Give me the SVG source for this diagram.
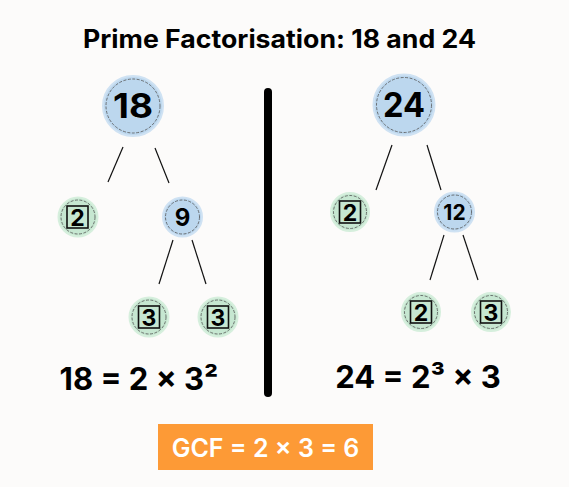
<svg xmlns="http://www.w3.org/2000/svg" width="569" height="487" viewBox="0 0 569 487">
<style>
.bg{fill:#fcfbfa}
.blue{fill:#bcd7ee;stroke:#cfe2f3;stroke-width:2}
.green{fill:#c6e7d1;stroke:#d6efdd;stroke-width:2}
.ring{fill:none;stroke:#555;stroke-width:0.8;stroke-dasharray:3 1.5}
.box{fill:none;stroke:#111;stroke-width:1.6}
.t{font-family:Inter,"Liberation Sans",sans-serif;font-weight:700;fill:#000;text-anchor:middle}
.d{font-size:23px}
.conn line{stroke:#111;stroke-width:1.2}
</style>
<rect class="bg" width="569" height="487"/>
<text class="t" x="279.5" y="48" font-size="25" textLength="393" lengthAdjust="spacingAndGlyphs">Prime Factorisation: 18 and 24</text>
<g class="conn">
<line x1="123" y1="147" x2="108" y2="182"/>
<line x1="155" y1="148" x2="169" y2="183"/>
<line x1="173" y1="240" x2="159" y2="284"/>
<line x1="192" y1="240" x2="206" y2="284"/>
<line x1="392" y1="145" x2="376" y2="190"/>
<line x1="427" y1="145" x2="441" y2="190"/>
<line x1="444" y1="235" x2="430" y2="280"/>
<line x1="463" y1="235" x2="478" y2="280"/>
</g>
<line x1="268" y1="92" x2="268" y2="393" stroke="#000" stroke-width="8" stroke-linecap="round"/>
<g id="n18">
<circle class="blue" cx="133" cy="106" r="30"/>
<circle class="ring" cx="133" cy="106" r="27"/>
<text class="t" x="133" y="118" font-size="34" textLength="40" lengthAdjust="spacingAndGlyphs">18</text>
</g>
<g id="n2a">
<circle class="green" cx="78" cy="217" r="19.5"/>
<circle class="ring" cx="78" cy="217" r="17"/>
<rect class="box" x="67" y="206" width="21" height="22"/>
<text class="t d" x="77.5" y="225.5">2</text>
</g>
<g id="n9">
<circle class="blue" cx="182.5" cy="217" r="19.5"/>
<circle class="ring" cx="182.5" cy="217" r="17"/>
<text class="t" x="182.5" y="226" font-size="24">9</text>
</g>
<g id="n3a">
<circle class="green" cx="149" cy="317" r="19.5"/>
<circle class="ring" cx="149" cy="317" r="17"/>
<rect class="box" x="138.5" y="306" width="21" height="22"/>
<text class="t d" x="149" y="325.5">3</text>
</g>
<g id="n3b">
<circle class="green" cx="218" cy="317" r="19.5"/>
<circle class="ring" cx="218" cy="317" r="17"/>
<rect class="box" x="207.5" y="306" width="21" height="22"/>
<text class="t d" x="218" y="325.5">3</text>
</g>
<g id="n24">
<circle class="blue" cx="404" cy="105" r="30.5"/>
<circle class="ring" cx="404" cy="105" r="27.5"/>
<text class="t" x="404" y="117" font-size="34" textLength="42" lengthAdjust="spacingAndGlyphs">24</text>
</g>
<g id="n2b">
<circle class="green" cx="350" cy="212" r="19"/>
<circle class="ring" cx="350" cy="212" r="16.5"/>
<rect class="box" x="339.5" y="201" width="21" height="22"/>
<text class="t d" x="350" y="220.5">2</text>
</g>
<g id="n12">
<circle class="blue" cx="454.5" cy="212" r="19.5"/>
<circle class="ring" cx="454.5" cy="212" r="17"/>
<text class="t" x="454.5" y="220" font-size="21">12</text>
</g>
<g id="n2c">
<circle class="green" cx="421" cy="312" r="19"/>
<circle class="ring" cx="421" cy="312" r="16.5"/>
<rect class="box" x="410.5" y="301" width="21" height="22"/>
<text class="t d" x="421" y="320.5">2</text>
</g>
<g id="n3c">
<circle class="green" cx="491" cy="312" r="19"/>
<circle class="ring" cx="491" cy="312" r="16.5"/>
<rect class="box" x="480.5" y="301" width="21" height="22"/>
<text class="t d" x="491" y="320.5">3</text>
</g>
<text class="t" x="139" y="390" font-size="31">18 = 2 × 3²</text>
<text class="t" x="418" y="388" font-size="31">24 = 2³ × 3</text>
<g id="gcf">
<rect x="158" y="424" width="215" height="46" fill="#fd9a36"/>
<text class="t" x="265.5" y="457" font-size="25" style="fill:#fff;font-weight:600">GCF = 2 × 3 = 6</text>
</g>
</svg>
